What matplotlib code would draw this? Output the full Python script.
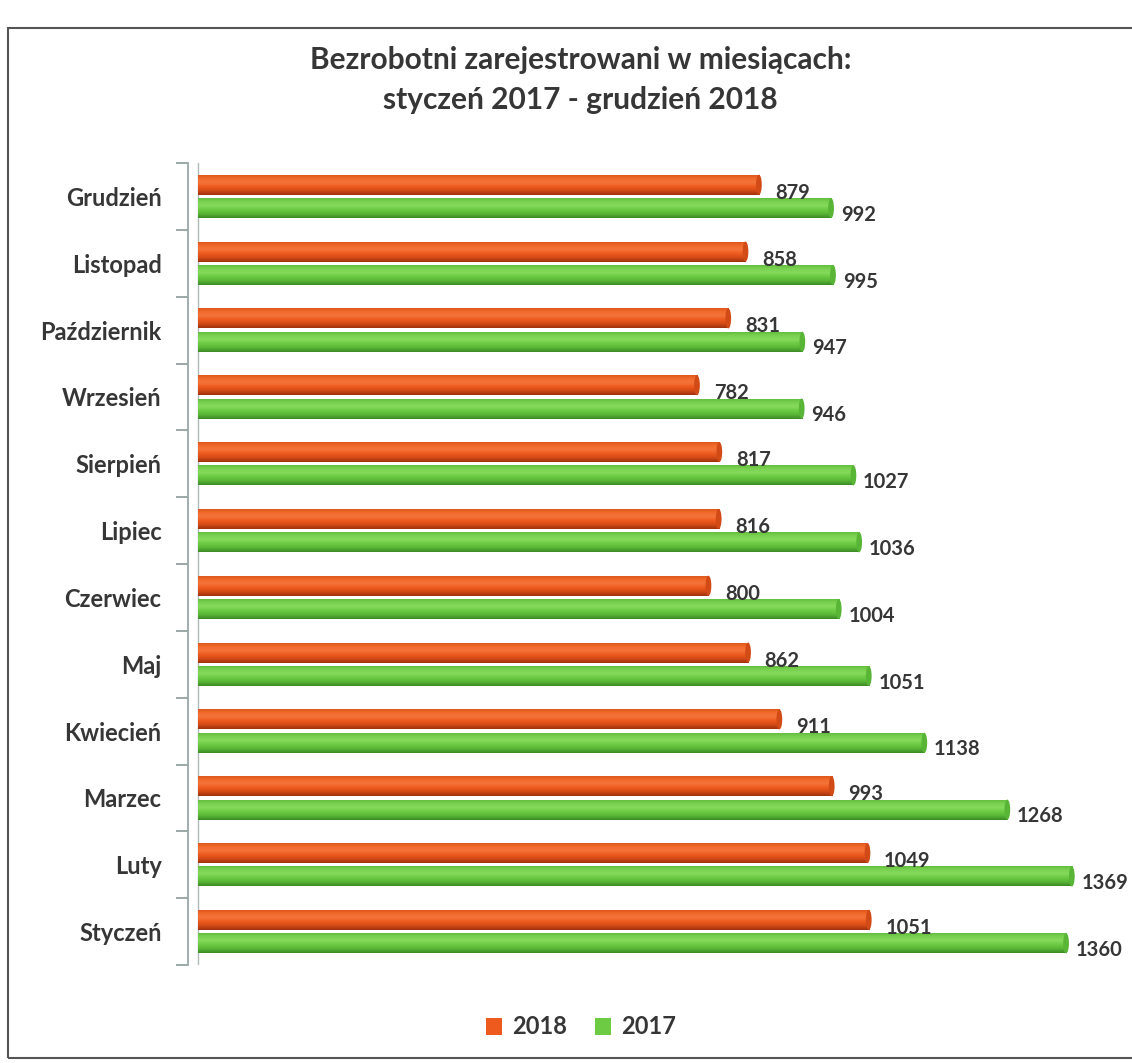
import matplotlib
matplotlib.use("Agg")
import matplotlib.pyplot as plt
from matplotlib.patches import Rectangle, Patch, Ellipse
from matplotlib.colors import LinearSegmentedColormap
import numpy as np

plt.rcParams['font.family'] = ['Lato', 'DejaVu Sans']

months = ["Styczeń", "Luty", "Marzec", "Kwiecień", "Maj", "Czerwiec",
          "Lipiec", "Sierpień", "Wrzesień", "Październik", "Listopad", "Grudzień"]
v2018 = [1051, 1049, 993, 911, 862, 800, 816, 817, 782, 831, 858, 879]
v2017 = [1360, 1369, 1268, 1138, 1051, 1004, 1036, 1027, 946, 947, 995, 992]
series_names = ["2018", "2017"]

c18 = "#EE5A1E"
c17 = "#6CCB42"
# gradient from bottom to top of the cylinder
grad18 = ["#9E3210", "#D24A16", "#EE5A1E", "#F4743A", "#F06A2A", "#D85018"]
grad17 = ["#3C8A26", "#58B536", "#6CCB42", "#86DA5C", "#78D04E", "#5EB83A"]
txt = "#363636"

W, H = 1132, 1063
fig = plt.figure(figsize=(W / 100, H / 100), dpi=100)
ax = fig.add_axes([188 / W, 1 - 965 / H, (1098 - 188) / W, (965 - 163) / H])

y = np.arange(len(months))
h = 0.30
off = 0.175
grad_img = np.linspace(0, 1, 64).reshape(-1, 1)

for vals, dy, base, grad in [(v2018, off, c18, grad18), (v2017, -off, c17, grad17)]:
    cmap = LinearSegmentedColormap.from_list("g", grad)
    bars = ax.barh(y + dy, vals, height=h, left=0, color=base, edgecolor='none', zorder=2)
    for b in bars:
        x0, y0, w, hh = b.get_x(), b.get_y(), b.get_width(), b.get_height()
        im = ax.imshow(grad_img, cmap=cmap, origin='lower', aspect='auto',
                       extent=[x0, x0 + w, y0, y0 + hh], zorder=3, interpolation='bilinear')
        im.set_clip_path(b)
        ax.add_patch(Ellipse((x0 + w, y0 + hh / 2), 9, hh, facecolor=grad[1],
                             edgecolor='none', zorder=4))

for i in range(len(months)):
    ax.annotate(str(v2018[i]), (v2018[i], y[i] + off - 0.12), xytext=(12, 0),
                textcoords='offset points', ha='left', va='center',
                fontsize=14.5, fontweight='bold', color=txt)
    ax.annotate(str(v2017[i]), (v2017[i], y[i] - off - 0.1), xytext=(7, 0),
                textcoords='offset points', ha='left', va='center',
                fontsize=14.5, fontweight='bold', color=txt)

ax.set_xlim(-15, 1410)
ax.set_ylim(-0.5, len(months) - 0.5)
ax.set_yticks(y)
ax.set_yticklabels(months, fontsize=17, fontweight='bold', color=txt)
ax.set_yticks(np.arange(-0.5, len(months), 1), minor=True)
ax.tick_params(axis='y', which='major', length=0, pad=19)
ax.tick_params(axis='y', which='minor', length=9, color='#8a9a9a', width=1.2, direction='out')
ax.set_xticks([])
for s in ['top', 'right', 'bottom']:
    ax.spines[s].set_visible(False)
ax.spines['left'].set_color('#9aa8a8')
ax.spines['left'].set_linewidth(1.3)
ax.axvline(0, color='#b0bcbc', lw=1.0, zorder=1)

fig.text(0.513, 1 - 60 / H, "Bezrobotni zarejestrowani w miesiącach:", ha='center', va='center',
         fontsize=21.5, fontweight='bold', color=txt)
fig.text(0.513, 1 - 100 / H, "styczeń 2017 - grudzień 2018", ha='center', va='center',
         fontsize=21.5, fontweight='bold', color=txt)

handles = [Patch(facecolor=c18, edgecolor='none'), Patch(facecolor=c17, edgecolor='none')]
fig.legend(handles, series_names, loc='center', bbox_to_anchor=(0.513, 1 - 1027 / H), ncol=2,
           frameon=False, handlelength=0.7, handleheight=0.7, handletextpad=0.4, columnspacing=1.2,
           prop={'size': 17, 'weight': 'bold'}, labelcolor=txt)

fig.patches.append(Rectangle((8 / W, 1 - 1058 / H), 1.0, (1058 - 28) / H, transform=fig.transFigure,
                             fill=False, edgecolor='#555555', lw=1.5))

fig.savefig("out.png", dpi=100, facecolor='white')
